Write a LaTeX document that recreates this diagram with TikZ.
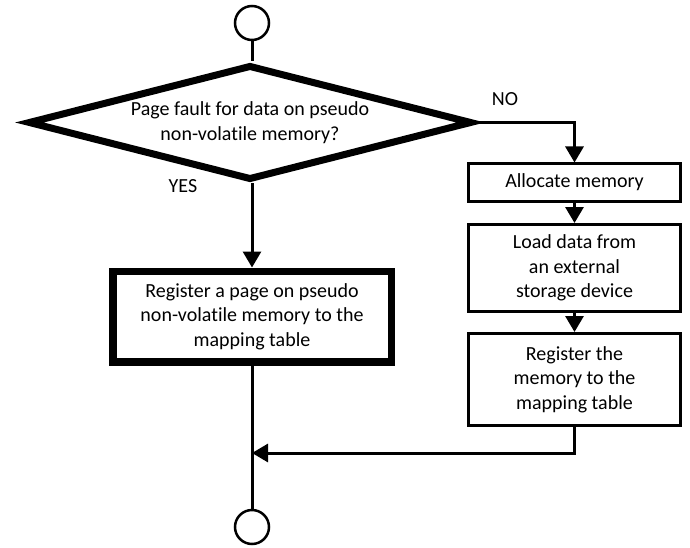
\documentclass[tikz,border=0pt]{standalone}
\usepackage{fontspec}
\setmainfont{Carlito}[RawFeature={-liga}]
\usetikzlibrary{shapes.geometric,arrows.meta}
\begin{document}
\begin{tikzpicture}[x=1pt,y=-1pt,
  txt/.style={font=\fontsize{20}{24.5}\selectfont},
  line/.style={line width=3pt},
  arr/.style={line width=3pt,-{Triangle[width=18pt,length=16pt]}},
  term/.style={circle,draw,line width=2.5pt,minimum size=34pt,inner sep=0pt},
  proc/.style={draw,line width=3pt,align=center,inner sep=0pt,txt},
  bigproc/.style={draw,line width=7.5pt,align=center,inner sep=0pt,txt},
  decision/.style={draw,diamond,line width=7pt,aspect=3.86,inner sep=0pt,align=center,txt}]
\useasboundingbox (0,0) rectangle (690,548);

\node[term] (start) at (252,23) {};
\node[decision,minimum width=444pt,minimum height=115pt] (dec) at (250,122.5)
  {Page fault for data on pseudo\\non-volatile memory?};
\node[bigproc,minimum width=278.5pt,minimum height=90.5pt] (left) at (252,316.5)
  {Register a page on pseudo\\non-volatile memory to the\\mapping table};
\node[proc,minimum width=212pt,minimum height=37pt] (alloc) at (574.5,182.5) {Allocate memory};
\node[proc,minimum width=212pt,minimum height=87pt] (load) at (574.5,268) {Load data from\\an external\\storage device};
\node[proc,minimum width=212pt,minimum height=92pt] (reg) at (574.5,379.5) {Register the\\memory to the\\mapping table};
\node[term] (end) at (252,527) {};
\node[txt] (yes) at (183,186) {YES};
\node[txt] (no) at (505,99) {NO};
\coordinate (mrg) at (252,453);

\draw[line] (start.south) -- (start.south |- dec.north);
\draw[arr] (start |- dec.south) -- (start |- left.north);
\draw[arr] (dec.east) -| (alloc.north);
\draw[arr] (alloc.south) -- (load.north);
\draw[arr] (load.south) -- (reg.north);
\draw[line] (start |- left.south) -- (end.north);
\draw[arr] (reg.south) |- (mrg);
\end{tikzpicture}
\end{document}
